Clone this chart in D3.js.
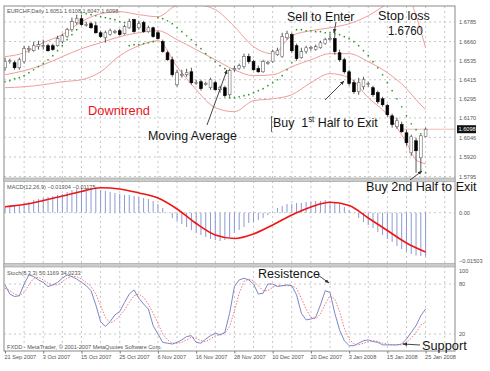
<!DOCTYPE html>
<html>
<head>
<meta charset="utf-8">
<script src="https://cdn.jsdelivr.net/npm/d3@7"></script>
<style>
  body { margin: 0; background: #fff; }
  svg { display: block; font-family: "Liberation Sans", Arial, sans-serif; }
  .small { font-size: 5.6px; fill: #555; }
  .note { font-size: 13.5px; fill: #151515; white-space: pre; }
</style>
</head>
<body>
<svg id="chart" width="490" height="371"></svg>
<script>
// EURCHF daily, 21 Sep 2007 - 25 Jan 2008 (89 bars)
const dateLabels = ['21 Sep 2007', '3 Oct 2007', '15 Oct 2007', '25 Oct 2007', '6 Nov 2007', '16 Nov 2007',
    '28 Nov 2007', '10 Dec 2007', '20 Dec 2007', '3 Jan 2008', '15 Jan 2008', '25 Jan 2008'];
const priceTicks = [1.6785, 1.6660, 1.6535, 1.6415, 1.6295, 1.6170, 1.6046, 1.5920, 1.5795];
const lastPrice = 1.6098;

const opens = [
    1.6492, 1.6531, 1.6524, 1.6492, 1.6531, 1.6608, 1.6601, 1.6627, 1.6633, 1.6633,
    1.6633, 1.6633, 1.6659, 1.6691, 1.6736, 1.6781, 1.6806, 1.6768, 1.6774, 1.6761,
    1.6716, 1.6684, 1.6704, 1.6723, 1.6729, 1.6710, 1.6748, 1.6800, 1.6748, 1.6781,
    1.6723, 1.6748, 1.6716, 1.6659, 1.6588, 1.6543, 1.6383, 1.6447, 1.6447, 1.6466,
    1.6396, 1.6402, 1.6390, 1.6364, 1.6396, 1.6351, 1.6364, 1.6319, 1.6479, 1.6486,
    1.6499, 1.6563, 1.6531, 1.6486, 1.6466, 1.6524, 1.6531, 1.6575, 1.6563, 1.6684,
    1.6704, 1.6633, 1.6556, 1.6595, 1.6620, 1.6608, 1.6620, 1.6646, 1.6678, 1.6678,
    1.6588, 1.6543, 1.6466, 1.6396, 1.6338, 1.6370, 1.6390, 1.6364, 1.6332, 1.6293,
    1.6249, 1.6184, 1.6114, 1.6127, 1.6075, 1.5947, 1.6024, 1.5915, 1.6051];
const highs = [
    1.6556, 1.6550, 1.6537, 1.6556, 1.6633, 1.6633, 1.6659, 1.6665, 1.6672, 1.6646,
    1.6646, 1.6697, 1.6710, 1.6748, 1.6813, 1.6832, 1.6832, 1.6787, 1.6787, 1.6787,
    1.6729, 1.6729, 1.6742, 1.6736, 1.6742, 1.6768, 1.6806, 1.6806, 1.6793, 1.6793,
    1.6761, 1.6755, 1.6729, 1.6672, 1.6601, 1.6563, 1.6479, 1.6479, 1.6486, 1.6492,
    1.6415, 1.6415, 1.6402, 1.6428, 1.6409, 1.6377, 1.6377, 1.6486, 1.6505, 1.6518,
    1.6582, 1.6582, 1.6543, 1.6505, 1.6543, 1.6537, 1.6608, 1.6620, 1.6716, 1.6729,
    1.6716, 1.6646, 1.6620, 1.6633, 1.6633, 1.6640, 1.6665, 1.6684, 1.6710, 1.6729,
    1.6608, 1.6556, 1.6479, 1.6415, 1.6428, 1.6434, 1.6402, 1.6377, 1.6345, 1.6306,
    1.6261, 1.6197, 1.6172, 1.6146, 1.6095, 1.6063, 1.6043, 1.6063, 1.6108];
const lows = [
    1.6473, 1.6518, 1.6479, 1.6479, 1.6518, 1.6588, 1.6595, 1.6608, 1.6608, 1.6595,
    1.6601, 1.6627, 1.6646, 1.6684, 1.6723, 1.6768, 1.6761, 1.6755, 1.6742, 1.6710,
    1.6684, 1.6652, 1.6697, 1.6710, 1.6697, 1.6704, 1.6742, 1.6716, 1.6736, 1.6716,
    1.6716, 1.6684, 1.6672, 1.6588, 1.6537, 1.6434, 1.6370, 1.6428, 1.6434, 1.6383,
    1.6383, 1.6345, 1.6377, 1.6351, 1.6345, 1.6332, 1.6300, 1.6306, 1.6466, 1.6479,
    1.6486, 1.6518, 1.6473, 1.6460, 1.6460, 1.6511, 1.6524, 1.6569, 1.6556, 1.6672,
    1.6588, 1.6537, 1.6550, 1.6582, 1.6601, 1.6601, 1.6614, 1.6640, 1.6665, 1.6575,
    1.6531, 1.6454, 1.6377, 1.6325, 1.6319, 1.6351, 1.6370, 1.6306, 1.6261, 1.6242,
    1.6178, 1.6108, 1.6101, 1.6075, 1.5992, 1.5928, 1.5819, 1.5825, 1.6047];
const closes = [
    1.6531, 1.6537, 1.6492, 1.6543, 1.6614, 1.6614, 1.6633, 1.6640, 1.6634, 1.6601,
    1.6608, 1.6678, 1.6697, 1.6736, 1.6787, 1.6806, 1.6768, 1.6769, 1.6748, 1.6716,
    1.6691, 1.6716, 1.6729, 1.6724, 1.6704, 1.6755, 1.6787, 1.6723, 1.6774, 1.6723,
    1.6748, 1.6691, 1.6678, 1.6595, 1.6543, 1.6447, 1.6460, 1.6448, 1.6460, 1.6396,
    1.6397, 1.6358, 1.6391, 1.6415, 1.6351, 1.6364, 1.6313, 1.6473, 1.6486, 1.6505,
    1.6563, 1.6531, 1.6479, 1.6466, 1.6531, 1.6525, 1.6595, 1.6601, 1.6691, 1.6710,
    1.6601, 1.6550, 1.6595, 1.6620, 1.6621, 1.6627, 1.6652, 1.6672, 1.6679, 1.6595,
    1.6543, 1.6466, 1.6390, 1.6338, 1.6396, 1.6415, 1.6391, 1.6319, 1.6274, 1.6255,
    1.6191, 1.6127, 1.6152, 1.6082, 1.6011, 1.6050, 1.5960, 1.6056, 1.6098];

// parabolic SAR, one dot per bar
const sar = [
    1.6402, 1.6409, 1.6422, 1.6428, 1.6441, 1.6460, 1.6479, 1.6499, 1.6518, 1.6543,
    1.6569, 1.6601, 1.6633, 1.6672, 1.6704, 1.6736, 1.6845, 1.6838, 1.6832, 1.6825,
    1.6819, 1.6813, 1.6806, 1.6800, 1.6787, 1.6781, 1.6633, 1.6640, 1.6640, 1.6646,
    1.6652, 1.6659, 1.6813, 1.6806, 1.6793, 1.6774, 1.6748, 1.6723, 1.6697, 1.6672,
    1.6640, 1.6614, 1.6582, 1.6556, 1.6531, 1.6505, 1.6486, 1.6300, 1.6300, 1.6306,
    1.6313, 1.6319, 1.6332, 1.6345, 1.6358, 1.6377, 1.6396, 1.6415, 1.6441, 1.6479,
    1.6524, 1.6736, 1.6736, 1.6729, 1.6729, 1.6723, 1.6723, 1.6716, 1.6716, 1.6710,
    1.6704, 1.6691, 1.6678, 1.6659, 1.6633, 1.6601, 1.6569, 1.6531, 1.6492, 1.6447,
    1.6396, 1.6345, 1.6293, 1.6242, 1.6184, 1.6133, 1.6095, 1.6069, 1.5819];

const bandBars = [0, 4, 8, 12, 16, 20, 24, 28, 32, 36, 40, 44, 48, 52, 56, 60, 64, 68, 72, 76, 80, 84, 86, 88];
const bandUpper = [1.6563, 1.6588, 1.6652, 1.6704, 1.6787, 1.6838, 1.6851, 1.6832, 1.6819, 1.6890, 1.6896, 1.6864,
    1.6755, 1.6627, 1.6582, 1.6697, 1.6729, 1.6748, 1.6774, 1.6825, 1.6902, 1.6966, 1.6825, 1.6620];
const bandMiddle = [1.6447, 1.6473, 1.6511, 1.6563, 1.6614, 1.6652, 1.6691, 1.6716, 1.6729, 1.6672, 1.6608, 1.6543,
    1.6479, 1.6441, 1.6447, 1.6499, 1.6543, 1.6582, 1.6582, 1.6531, 1.6460, 1.6358, 1.6287, 1.6223];
const bandLower = [1.6364, 1.6370, 1.6383, 1.6402, 1.6415, 1.6466, 1.6569, 1.6633, 1.6665, 1.6499, 1.6351, 1.6236,
    1.6210, 1.6281, 1.6293, 1.6319, 1.6396, 1.6454, 1.6428, 1.6300, 1.6191, 1.6011, 1.5902, 1.5877];

// MACD(12,26,9)
const macdHist = [
    0.00170, 0.00170, 0.00200, 0.00200, 0.00290, 0.00320, 0.00379, 0.00409, 0.00439, 0.00469,
    0.00499, 0.00529, 0.00559, 0.00618, 0.00678, 0.00708, 0.00738, 0.00738, 0.00738, 0.00708,
    0.00678, 0.00648, 0.00618, 0.00588, 0.00559, 0.00529, 0.00529, 0.00499, 0.00469, 0.00439,
    0.00409, 0.00350, 0.00260, 0.00140, -0.00009, -0.00158, -0.00248, -0.00338, -0.00427, -0.00517,
    -0.00607, -0.00666, -0.00726, -0.00786, -0.00816, -0.00846, -0.00816, -0.00726, -0.00607, -0.00517,
    -0.00427, -0.00308, -0.00278, -0.00218, -0.00158, -0.00069, 0.00021, 0.00140, 0.00200, 0.00260,
    0.00260, 0.00290, 0.00290, 0.00320, 0.00320, 0.00350, 0.00350, 0.00379, 0.00350, 0.00320,
    0.00260, 0.00170, 0.00081, -0.00009, -0.00158, -0.00278, -0.00367, -0.00457, -0.00577, -0.00666,
    -0.00786, -0.00875, -0.00995, -0.01085, -0.01174, -0.01234, -0.01279, -0.01294, -0.01304];
const signalBars = [0, 4, 8, 12, 16, 20, 24, 28, 32, 36, 40, 44, 48, 52, 56, 60, 64, 68, 72, 76, 80, 84, 88];
const macdSignal = [0.00179, 0.00245, 0.00365, 0.00499, 0.00633, 0.00747, 0.00709, 0.00590, 0.00439, 0.00111,
    -0.00323, -0.00666, -0.00771, -0.00636, -0.00367, -0.00069, 0.00170, 0.00311, 0.00215, -0.00158,
    -0.00532, -0.00905, -0.01175];

// Stochastic(8,3,3)
const stochMain = [
    79, 68, 65, 66, 80, 91, 89, 85, 82, 77, 79, 82, 87, 91, 89, 86, 82, 78, 72, 55,
    35, 29, 35, 43, 47, 58, 68, 73, 63, 56, 50, 30, 20, 10, 9, 8, 10, 13, 17, 18,
    10, 9, 14, 18, 21, 19, 22, 45, 77, 85, 87, 85, 80, 68, 69, 80, 80, 77, 78, 79,
    78, 67, 45, 37, 38, 40, 55, 72, 70, 45, 25, 12, 6, 6, 9, 12, 13, 11, 10, 7,
    7, 7, 7, 8, 14, 22, 30, 42, 50.1169];
const stochSignal = [
    75, 72, 68, 66, 70, 79, 87, 88, 85, 81, 79, 79, 83, 87, 89, 89, 86, 82, 77, 68,
    54, 40, 33, 36, 42, 49, 58, 66, 68, 64, 56, 45, 33, 20, 13, 9, 9, 10, 13, 16,
    15, 12, 11, 14, 18, 19, 21, 29, 48, 69, 83, 86, 84, 78, 72, 72, 76, 79, 78, 78,
    78, 75, 63, 50, 40, 38, 44, 56, 66, 62, 47, 27, 14, 8, 7, 9, 11, 12, 11, 9,
    8, 7, 7, 7, 10, 15, 22, 31, 34.0233];
const stochTicks = [80, 20];

const svg = d3.select('#chart');
const left = 4, right = 455;
const mainP = { top: 6, bottom: 178 };
const macdP = { top: 181.5, bottom: 263.5 };
const stochP = { top: 267, bottom: 351 };

const x = d3.scaleLinear().domain([0, 88]).range([5, 425.6]);
const y = d3.scaleLinear().domain([1.5795, 1.6785]).range([176.5, 22]);
const yM = d3.scaleLinear().domain([-0.01503, 0]).range([263, 212.7]);
const yS = d3.scaleLinear().domain([0, 100]).range([350.7, 267.4]);

svg.append('rect').attr('width', 490).attr('height', 371).attr('fill', '#fff');

const defs = svg.append('defs');
defs.append('clipPath').attr('id', 'clipMain').append('rect')
    .attr('x', left).attr('y', mainP.top).attr('width', right - left).attr('height', mainP.bottom - mainP.top);
defs.append('marker')
    .attr('id', 'head')
    .attr('viewBox', '0 -5 10 10')
    .attr('refX', 9)
    .attr('refY', 0)
    .attr('orient', 'auto')
    .attr('markerWidth', 5)
    .attr('markerHeight', 5)
    .append('path')
    .attr('d', 'M0,-4L10,0L0,4Z')
    .attr('fill', '#333');

// grid
const grid = svg.append('g').attr('stroke', '#b9b9b9').attr('stroke-width', 0.8).attr('stroke-dasharray', '2,3');
d3.range(4, 93, 4).forEach(i => {
    grid.append('line').attr('x1', x(i)).attr('x2', x(i)).attr('y1', mainP.top).attr('y2', stochP.bottom);
});
priceTicks.forEach(p => {
    grid.append('line').attr('x1', left).attr('x2', right).attr('y1', y(p)).attr('y2', y(p));
});
grid.append('line').attr('x1', left).attr('x2', right).attr('y1', yM(0)).attr('y2', yM(0));
stochTicks.forEach(v => {
    grid.append('line').attr('x1', left).attr('x2', right).attr('y1', yS(v)).attr('y2', yS(v));
});

// main panel
const main = svg.append('g').attr('clip-path', 'url(#clipMain)');

main.append('line')
    .attr('x1', 400).attr('x2', right).attr('y1', y(lastPrice)).attr('y2', y(lastPrice))
    .attr('stroke', '#f2bcbc').attr('stroke-width', 1);

const bandLine = d3.line()
    .x((d, k) => x(bandBars[k]))
    .y(d => y(d))
    .curve(d3.curveMonotoneX);
[bandUpper, bandMiddle, bandLower].forEach(band => {
    main.append('path')
        .attr('d', bandLine(band))
        .attr('fill', 'none')
        .attr('stroke', '#f19c9c')
        .attr('stroke-width', 1);
});

const bars = d3.range(opens.length);
main.append('g').selectAll('line')
    .data(bars)
    .enter()
    .append('line')
    .attr('x1', i => x(i)).attr('x2', i => x(i))
    .attr('y1', i => y(highs[i])).attr('y2', i => y(lows[i]))
    .attr('stroke', '#444')
    .attr('stroke-width', 0.9);

main.append('g').selectAll('rect')
    .data(bars)
    .enter()
    .append('rect')
    .attr('x', i => x(i) - 1.4)
    .attr('width', 2.8)
    .attr('y', i => y(Math.max(opens[i], closes[i])))
    .attr('height', i => Math.max(0.8, Math.abs(y(opens[i]) - y(closes[i]))))
    .attr('fill', i => closes[i] >= opens[i] ? '#fff' : '#000')
    .attr('stroke', i => closes[i] >= opens[i] ? '#666' : '#000')
    .attr('stroke-width', 0.6);

main.append('g').selectAll('circle')
    .data(bars)
    .enter()
    .append('circle')
    .attr('cx', i => x(i))
    .attr('cy', i => y(sar[i]))
    .attr('r', 0.85)
    .attr('fill', '#2a9a2a');

// MACD panel
svg.append('g').selectAll('line')
    .data(bars)
    .enter()
    .append('line')
    .attr('x1', i => x(i)).attr('x2', i => x(i))
    .attr('y1', yM(0)).attr('y2', i => yM(macdHist[i]))
    .attr('stroke', '#8d9bd0')
    .attr('stroke-width', 1);

svg.append('path')
    .attr('d', d3.line().x((d, k) => x(signalBars[k])).y(d => yM(d)).curve(d3.curveMonotoneX)(macdSignal))
    .attr('fill', 'none')
    .attr('stroke', '#f01414')
    .attr('stroke-width', 1.6);

// Stochastic panel
const stochLine = d3.line().x((d, i) => x(i)).y(d => yS(d));
svg.append('path')
    .attr('d', stochLine(stochSignal))
    .attr('fill', 'none')
    .attr('stroke', '#f07a7a')
    .attr('stroke-width', 1)
    .attr('stroke-dasharray', '1.5,1.5');
svg.append('path')
    .attr('d', stochLine(stochMain))
    .attr('fill', 'none')
    .attr('stroke', '#7d86c8')
    .attr('stroke-width', 1);

// panel frames and separators
svg.append('rect')
    .attr('x', left).attr('y', mainP.top).attr('width', right - left).attr('height', stochP.bottom - mainP.top)
    .attr('fill', 'none').attr('stroke', '#8a8a8a').attr('stroke-width', 1);
[[mainP.bottom, macdP.top], [macdP.bottom, stochP.top]].forEach(([a, b]) => {
    svg.append('rect')
        .attr('x', left).attr('y', a).attr('width', right - left).attr('height', b - a)
        .attr('fill', '#c9cdc9').attr('stroke', '#9a9a9a').attr('stroke-width', 0.6);
});

// right axes
const axisMain = d3.axisRight(y).tickValues(priceTicks).tickSize(0).tickPadding(4).tickFormat(d3.format('.4f'));
svg.append('g').attr('transform', `translate(${right},0)`).call(axisMain)
    .call(g => g.select('.domain').remove())
    .selectAll('text').attr('class', 'small').attr('font-size', null).attr('font-family', null);

const lastY = y(lastPrice);
svg.append('rect').attr('x', 457).attr('y', lastY - 4).attr('width', 19).attr('height', 8).attr('fill', '#111');
svg.append('text').attr('class', 'small').attr('x', 458.5).attr('y', lastY + 2)
    .style('fill', '#fff').text(d3.format('.4f')(lastPrice));

const axisMacd = d3.axisRight(yM).tickValues([0, -0.01503]).tickSize(0).tickPadding(4)
    .tickFormat(d => d === 0 ? '0.00' : d3.format('.5f')(d));
svg.append('g').attr('transform', `translate(${right},0)`).call(axisMacd)
    .call(g => g.select('.domain').remove())
    .selectAll('text').attr('class', 'small').attr('font-size', null).attr('font-family', null)
    .attr('dy', (d, k) => k === 1 ? '-0.1em' : '0.32em');

const axisStoch = d3.axisRight(yS).tickValues([100, 80, 20]).tickSize(0).tickPadding(4);
svg.append('g').attr('transform', `translate(${right},0)`).call(axisStoch)
    .call(g => g.select('.domain').remove())
    .selectAll('text').attr('class', 'small').attr('font-size', null).attr('font-family', null)
    .attr('dy', d => d === 100 ? '0.9em' : '0.32em');

// date axis
const axisDate = d3.axisBottom(x).tickValues(d3.range(0, 89, 8)).tickSize(2.5).tickPadding(2)
    .tickFormat((d, k) => dateLabels[k]);
svg.append('g').attr('transform', `translate(0,${stochP.bottom})`).call(axisDate)
    .call(g => g.select('.domain').remove())
    .call(g => g.selectAll('line').attr('stroke', '#777'))
    .selectAll('text').attr('class', 'small').attr('font-size', null).attr('font-family', null)
    .attr('text-anchor', 'start').attr('x', -1);

// indicator captions
svg.append('text').attr('class', 'small').attr('x', 7).attr('y', 13)
    .text('EURCHF,Daily  ' + [opens[88], highs[88], lows[88], closes[88]].map(d3.format('.4f')).join(' '));
svg.append('text').attr('class', 'small').attr('x', 7).attr('y', 188.5)
    .text('MACD(12,26,9) ' + d3.format('.5f')(macdHist[88]) + ' ' + d3.format('.5f')(macdSignal[macdSignal.length - 1]));
svg.append('text').attr('class', 'small').attr('x', 7).attr('y', 275)
    .text('Stoch(8,3,3) ' + d3.format('.4f')(stochMain[88]) + ' ' + d3.format('.4f')(stochSignal[88]));
svg.append('text').attr('class', 'small').attr('x', 7).attr('y', 349)
    .text('FXDD - MetaTrader, \u00a9 2001-2007 MetaQuotes Software Corp.');

// annotations
function note(str, nx, ny, w, color) {
    const t = svg.append('text').attr('class', 'note').attr('x', 0).attr('y', 0);
    if (Array.isArray(str)) {
        t.append('tspan').text(str[0]);
        t.append('tspan').attr('dy', -5).attr('font-size', 8.5).text(str[1]);
        t.append('tspan').attr('dy', 5).text(str[2]);
    } else {
        t.text(str);
    }
    if (color) t.style('fill', color);
    const natural = t.node().getBBox().width;
    t.attr('transform', `translate(${nx},${ny}) scale(${w / natural},1)`);
}
note('Sell to Enter', 287, 21, 68);
note('Stop loss', 378, 20, 52);
note('1.6760', 388, 35, 35);
note('Downtrend', 88, 115, 62, '#e8141c');
note('Moving Average', 148, 140, 89);
note(['Buy  1', 'st', ' Half to Exit'], 273, 127, 105);
note('Buy 2nd Half to Exit', 366, 191, 111);
note('Resistence', 258, 278, 62);
note('Support', 422, 350, 45);

svg.append('line').attr('x1', 271.5).attr('x2', 271.5).attr('y1', 116).attr('y2', 132)
    .attr('stroke', '#444').attr('stroke-width', 0.8);

const arrows = [
    [207, 125, 227, 70],
    [336, 22, 334, 33],
    [325, 100, 344, 81],
    [410, 180, 422, 171],
    [318, 275, 329, 283],
    [420, 345, 403, 344]
];
arrows.forEach(a => {
    svg.append('line')
        .attr('x1', a[0]).attr('y1', a[1]).attr('x2', a[2]).attr('y2', a[3])
        .attr('stroke', '#333').attr('stroke-width', 0.9)
        .attr('marker-end', 'url(#head)');
});
</script>
</body>
</html>
